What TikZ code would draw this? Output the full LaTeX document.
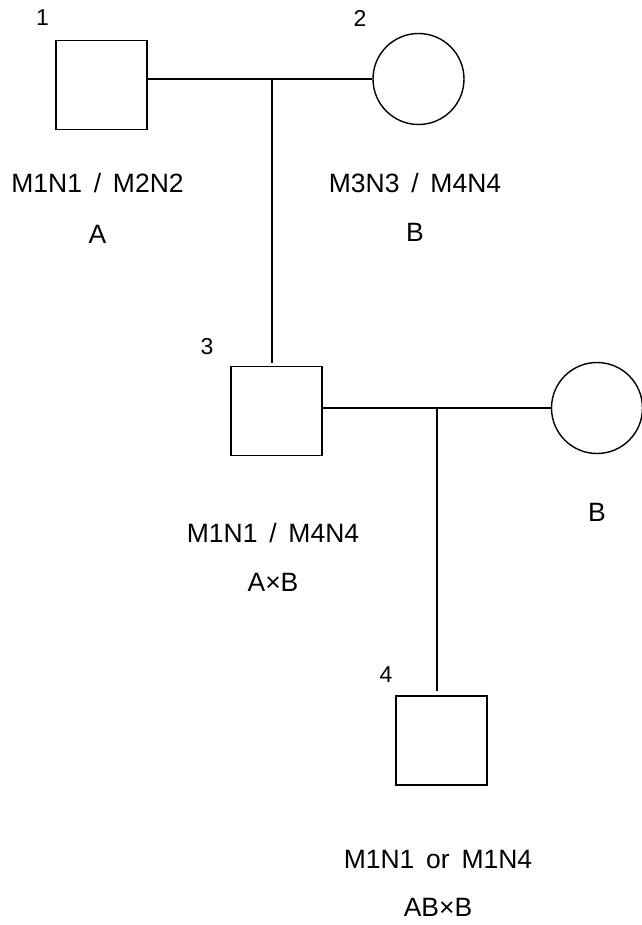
\documentclass[tikz,border=0pt]{standalone}
\usepackage{fontspec}
\setmainfont{Liberation Sans}
\newfontfamily\genofont[WordSpace=1.6]{Liberation Sans}
\usepackage{tikz}
\usetikzlibrary{positioning}

\begin{document}
\begin{tikzpicture}[
    x=1pt, y=-1pt,
    male/.style={draw, rectangle, minimum width=91pt, minimum height=89pt,
                 inner sep=0pt, line width=1.4pt},
    female/.style={draw, circle, minimum size=91pt, inner sep=0pt, line width=1.4pt},
    tag/.style={font=\fontsize{23}{25}\selectfont, inner sep=0pt},
    geno/.style={font=\genofont\fontsize{26.5}{29}\selectfont, inner sep=0pt},
    link/.style={line width=1.4pt}
]
    \useasboundingbox (0,0) rectangle (641,925);

    \node[male] (p1) at (101.5,85) {};
    \node[female] (p2) at (418.5,79) {};
    \node[male] (p3) at (276.5,411) {};
    \node[female] (sp) at (597,408) {};
    \node[male] (p4) at (441.5,740.5) {};

    \node[tag] (t1) at (42.5,18) {1};
    \node[tag] (t2) at (360,18) {2};
    \node[tag] (t3) at (207,347) {3};
    \node[tag] (t4) at (386,675) {4};

    \node[geno] (g1) at (97.5,183) {M1N1 / M2N2};
    \node[geno, below=51pt of g1.center, anchor=center] (b1) {A};
    \node[geno] (g2) at (415,183) {M3N3 / M4N4};
    \node[geno, below=49pt of g2.center, anchor=center] (b2) {B};
    \node[geno] (g3) at (273,533) {M1N1 / M4N4};
    \node[geno, below=49pt of g3.center, anchor=center] (b3) {A×B};
    \node[geno] (bs) at (597,512) {B};
    \node[geno] (g4) at (438,860) {M1N1 or M1N4};
    \node[geno, below=47pt of g4.center, anchor=center] (b4) {AB×B};

    \coordinate (m1) at (272,79);
    \coordinate (m2) at (437,408);

    \draw[link] (p1.east |- p2.west) -- (p2.west);
    \draw[link, shorten >=3pt] (m1) -- (m1 |- p3.north);
    \draw[link] (p3.east |- sp.west) -- (sp.west);
    \draw[link, shorten >=4pt] (m2) -- (m2 |- p4.north);
\end{tikzpicture}
\end{document}
